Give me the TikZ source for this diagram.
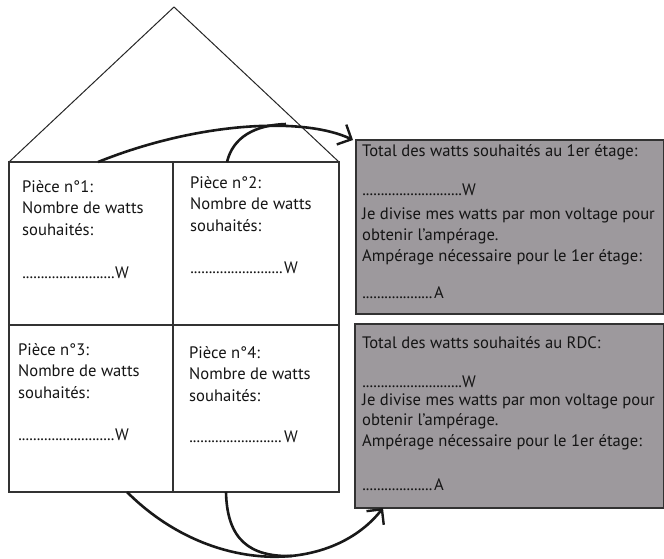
\documentclass[tikz,border=0pt]{standalone}
\usepackage{fontspec}
\setmainfont{PT Sans}
\usetikzlibrary{arrows.meta}
\definecolor{boxgray}{RGB}{157,153,157}
\definecolor{edgedark}{RGB}{50,50,50}
\newcommand\dotrule[1]{\hbox to #1{\leaders\hbox to 3.7pt{\hss.\hss}\hfill}}
\tikzset{
  txt/.style={anchor=base west, inner sep=0pt, font=\fontsize{16.6}{21}\selectfont, text=black!92},
  wall/.style={draw=edgedark, line width=1.4pt},
  roof/.style={draw=black!85, line width=1pt},
  panel/.style={draw=edgedark, line width=1.5pt, fill=boxgray},
  flow/.style={draw=black!90, line width=2.6pt},
  tip/.style={-{Straight Barb[length=11pt,width=22pt,line width=2.4pt]}}
}
\begin{document}
\begin{tikzpicture}[x=1pt,y=-1pt]
\useasboundingbox (0,0) rectangle (664,558);
% roof
\coordinate (rl) at (9,162);
\coordinate (apex) at (174,7);
\coordinate (rr) at (339,162);
\draw[roof] (rl) -- (apex) -- (rr);
% house
\draw[wall] (9,162) rectangle (339,492);
\draw[wall] (173,162) -- (173,492);
\draw[wall] (9,325) -- (339,325);
% gray panels
\node[panel, minimum width=308pt, minimum height=174pt, anchor=north west, inner sep=0pt] (p1) at (355,139) {};
\node[panel, minimum width=309pt, minimum height=184pt, anchor=north west, inner sep=0pt] (p2) at (354,323) {};
% room 1
\node[txt] (r1a) at (22,192) {Pièce n°1:};
\node[txt] (r1b) at (22,213.5) {Nombre de watts};
\node[txt] (r1c) at (22,235) {souhaités:};
\node[txt] (r1d) at (22,278) {\dotrule{93pt}W};
% room 2
\node[txt] (r2a) at (190,188) {Pièce n°2:};
\node[txt] (r2b) at (190,209.5) {Nombre de watts};
\node[txt] (r2c) at (190,231) {souhaités:};
\node[txt] (r2d) at (190,273) {\dotrule{94pt}W};
% room 3
\node[txt] (r3a) at (18,355) {Pièce n°3:};
\node[txt] (r3b) at (18,376.5) {Nombre de watts};
\node[txt] (r3c) at (18,398) {souhaités:};
\node[txt] (r3d) at (18,440) {\dotrule{97pt}W};
% room 4
\node[txt] (r4a) at (189,358) {Pièce n°4:};
\node[txt] (r4b) at (189,379.5) {Nombre de watts};
\node[txt] (r4c) at (189,401) {souhaités:};
\node[txt] (r4d) at (189,442) {\dotrule{95pt}W};
% panel 1 text
\node[txt] (t1a) at (362,156) {Total des watts souhaités au 1er étage:};
\node[txt] (t1b) at (362,195) {\dotrule{100pt}W};
\node[txt] (t1c) at (362,219) {Je divise mes watts par mon voltage pour};
\node[txt] (t1d) at (362,240) {obtenir l’ampérage.};
\node[txt] (t1e) at (362,261) {Ampérage nécessaire pour le 1er étage:};
\node[txt] (t1f) at (362,298) {\dotrule{72pt}A};
% panel 2 text
\node[txt] (t2a) at (362,348) {Total des watts souhaités au RDC:};
\node[txt] (t2b) at (362,387) {\dotrule{100pt}W};
\node[txt] (t2c) at (362,405) {Je divise mes watts par mon voltage pour};
\node[txt] (t2d) at (362,425) {obtenir l’ampérage.};
\node[txt] (t2e) at (362,446) {Ampérage nécessaire pour le 1er étage:};
\node[txt] (t2f) at (362,490) {\dotrule{72pt}A};
% connectors
\coordinate (s1) at (98,162);
\coordinate (s2) at (227,162);
\coordinate (m1) at (286,124);
\coordinate (e1) at (353,140);
\coordinate (s3) at (127,492);
\coordinate (s4) at (226,492);
\coordinate (m2) at (292,556);
\coordinate (e2) at (383,508);
\draw[flow, tip] (s1) .. controls (200,121) and (305,117) .. (e1);
\draw[flow] (s2) .. controls (233,137) and (255,125) .. (m1);
\draw[flow, tip] (s3) .. controls (210,575) and (330,575) .. (e2);
\draw[flow] (s4) .. controls (227,540) and (250,557) .. (m2);
\end{tikzpicture}
\end{document}
